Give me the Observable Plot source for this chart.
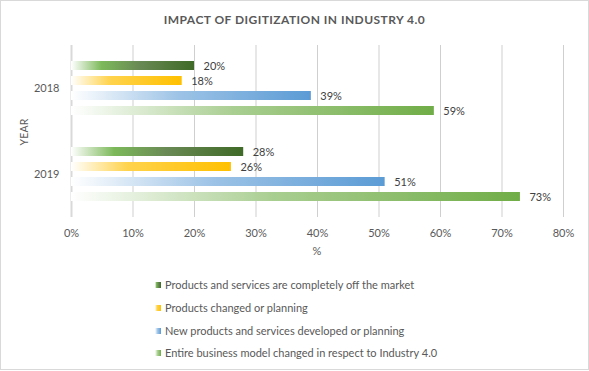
<!DOCTYPE html>
<html>
<head>
<meta charset="utf-8">
<script src="https://cdn.jsdelivr.net/npm/d3@7"></script>
<script src="https://cdn.jsdelivr.net/npm/@observablehq/plot@0.6"></script>
<style>
  html, body { margin: 0; padding: 0; background: #fff; }
  #wrap { position: relative; width: 589px; height: 371px; font-family: Lato, "Open Sans", sans-serif; color: #595959; overflow: hidden; }
  #frame { position: absolute; left: 0; top: 0; width: 589px; height: 370px; border: 1px solid #d9d9d9; box-sizing: border-box; }
  #wrap > svg { position: absolute; left: 0; top: 0; }
  .title { position: absolute; left: 0; width: 589px; top: 13px; line-height: 14px; text-align: center; font-weight: bold; font-size: 12px; letter-spacing: 0.45px; color: #595959; white-space: nowrap; }
  .ylab { position: absolute; left: 24px; top: 132px; transform: translate(-50%, -50%) rotate(-90deg); font-size: 10.5px; letter-spacing: 0.2px; line-height: 12px; white-space: nowrap; }
  .xlab { position: absolute; left: 317px; top: 251px; transform: translate(-50%, -50%); font-size: 11px; line-height: 12px; }
  .leg { position: absolute; left: 155px; height: 14px; line-height: 14px; font-size: 11px; white-space: nowrap; color: #595959; }
  .leg svg { position: absolute; left: 0; top: 4px; }
  .leg span { position: absolute; left: 10px; top: 0; }
</style>
</head>
<body>
<div id="wrap">
  <div id="frame"></div>
</div>
<script>
// ---- data ----
const title = "IMPACT OF DIGITIZATION IN INDUSTRY 4.0";
const years = ["2018", "2019"];
const series = [
  "Products and services are completely off the market",
  "Products changed or planning",
  "New products and services developed or planning",
  "Entire business model changed in respect to Industry 4.0"
];
const values2018 = [20, 18, 39, 59];
const values2019 = [28, 26, 51, 73];
const xTicks = [0, 10, 20, 30, 40, 50, 60, 70, 80];
const yAxisLabel = "YEAR";
const xAxisLabel = "%";

// ---- table for the library ----
const valuesByYear = [values2018, values2019];
const rows = years.flatMap((year, i) =>
  series.map((s, j) => ({year, series: s, value: valuesByYear[i][j]}))
);

// gradient styles (white -> colour), one per series
const gradients = [
  [[0, "#ffffff"], [0.25, "#7cb95a"], [0.55, "#6a8a55"], [1, "#3f6a27"]],
  [[0, "#ffffff"], [0.35, "#ffd34d"], [1, "#ffc000"]],
  [[0, "#ffffff"], [0.45, "#9dc3e6"], [1, "#5b9bd5"]],
  [[0, "#ffffff"], [0.45, "#a9ce91"], [1, "#70ad47"]]
];

const svg = Plot.plot({
  width: 589,
  height: 371,
  marginTop: 44,
  marginBottom: 154,
  marginLeft: 71,
  marginRight: 26,
  style: {fontFamily: "Lato, 'Open Sans', sans-serif", fontSize: "11px", color: "#595959", background: "transparent"},
  x: {domain: [0, 80], ticks: xTicks, tickFormat: d => d + "%", tickSize: 0, tickPadding: 12, label: null},
  fy: {domain: years, padding: 0, tickSize: 0, tickPadding: 12, label: null, axis: "left"},
  y: {domain: series, paddingInner: 0.38, paddingOuter: 1, axis: null},
  color: {domain: series, range: series.map((_, i) => `url(#grad${i})`)},
  marks: [
    Plot.ruleX(xTicks.slice(1), {stroke: "#cfcfcf", strokeWidth: 1}),
    Plot.ruleX([0], {stroke: "#d9d9d9", strokeWidth: 2}),
    Plot.barX(rows, {x: "value", y: "series", fy: "year", fill: "series"}),
    Plot.text(rows, {x: "value", y: "series", fy: "year", text: d => d.value + "%", textAnchor: "start", dx: 9, fill: "#404040", fontSize: 11})
  ]
});

const defs = d3.select(svg).insert("defs", ":first-child");
gradients.forEach((stops, i) => {
  const g = defs.append("linearGradient").attr("id", `grad${i}`).attr("x1", "0").attr("x2", "1").attr("y1", "0").attr("y2", "0");
  stops.forEach(([o, c]) => g.append("stop").attr("offset", o).attr("stop-color", c));
});

const wrap = d3.select("#wrap");
wrap.node().appendChild(svg);
wrap.append("div").attr("class", "title").text(title);
wrap.append("div").attr("class", "ylab").text(yAxisLabel);
wrap.append("div").attr("class", "xlab").text(xAxisLabel);

const legendTops = [278, 301, 324, 346];
series.forEach((s, i) => {
  const item = wrap.append("div").attr("class", "leg").style("top", legendTops[i] + "px");
  item.append("svg").attr("width", 6).attr("height", 6)
    .append("rect").attr("width", 6).attr("height", 6).attr("fill", `url(#grad${i})`);
  item.append("span").text(s);
});
</script>
</body>
</html>
